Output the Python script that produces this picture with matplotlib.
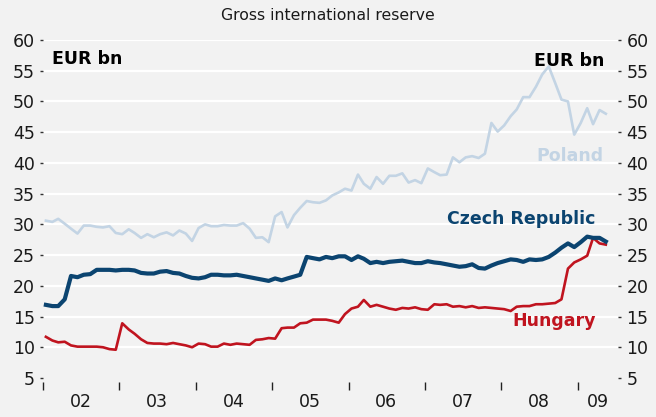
from matplotlib import pyplot as plt
import numpy as np
import pandas as pd

# Monthly data, Jan 2002 - May 2009 (EUR bn)
months = pd.date_range('2002-01-01', '2009-05-01', freq='MS')

poland = [30.6, 30.4, 30.9, 30.1, 29.3, 28.5, 29.8, 29.8, 29.6, 29.5,
          29.7, 28.6, 28.4, 29.2, 28.6, 27.8, 28.4, 27.9, 28.4, 28.7,
          28.2, 29.0, 28.5, 27.3, 29.4, 30.0, 29.7, 29.7, 29.9, 29.8,
          29.8, 30.2, 29.3, 27.8, 27.9, 27.1, 31.3, 32.0, 29.5, 31.5,
          32.7, 33.8, 33.6, 33.5, 33.9, 34.7, 35.2, 35.8, 35.5, 38.1,
          36.6, 35.8, 37.7, 36.6, 37.9, 37.9, 38.3, 36.8, 37.2, 36.7,
          39.1, 38.5, 38.0, 38.1, 40.9, 40.1, 40.9, 41.1, 40.8, 41.5,
          46.5, 45.1, 46.1, 47.6, 48.7, 50.7, 50.7, 52.4, 54.4, 55.7,
          53.0, 50.3, 50.0, 44.6, 46.5, 48.9, 46.3, 48.6, 48.0]

czech = [16.9, 16.7, 16.7, 17.8, 21.6, 21.4, 21.8, 21.9, 22.6, 22.6,
         22.6, 22.5, 22.6, 22.6, 22.5, 22.1, 22.0, 22.0, 22.3, 22.4,
         22.1, 22.0, 21.6, 21.3, 21.2, 21.4, 21.8, 21.8, 21.7, 21.7,
         21.8, 21.6, 21.4, 21.2, 21.0, 20.8, 21.2, 20.9, 21.2, 21.5,
         21.8, 24.7, 24.5, 24.3, 24.7, 24.5, 24.8, 24.8, 24.2, 24.8,
         24.4, 23.7, 23.9, 23.7, 23.9, 24.0, 24.1, 23.9, 23.7, 23.7,
         24.0, 23.8, 23.7, 23.5, 23.3, 23.1, 23.2, 23.5, 22.9, 22.8,
         23.3, 23.7, 24.0, 24.3, 24.2, 23.9, 24.3, 24.2, 24.3, 24.7,
         25.4, 26.2, 26.9, 26.3, 27.1, 28.0, 27.8, 27.8, 27.2]

hungary = [11.7, 11.1, 10.8, 10.9, 10.3, 10.1, 10.1, 10.1, 10.1, 10.0,
           9.7, 9.6, 13.9, 12.9, 12.2, 11.3, 10.7, 10.6, 10.6, 10.5,
           10.7, 10.5, 10.3, 10.0, 10.6, 10.5, 10.1, 10.1, 10.6, 10.4,
           10.6, 10.5, 10.4, 11.2, 11.3, 11.5, 11.4, 13.1, 13.2, 13.2,
           13.9, 14.0, 14.5, 14.5, 14.5, 14.3, 14.0, 15.4, 16.3, 16.6,
           17.7, 16.6, 16.9, 16.6, 16.3, 16.1, 16.4, 16.3, 16.5, 16.2,
           16.1, 17.0, 16.9, 17.0, 16.6, 16.7, 16.5, 16.7, 16.4, 16.5,
           16.4, 16.3, 16.2, 15.9, 16.6, 16.7, 16.7, 17.0, 17.0, 17.1,
           17.2, 17.8, 22.8, 23.8, 24.3, 24.9, 27.8, 26.9, 26.7]

yticks = list(range(5, 65, 5))
years = list(range(2002, 2010))
year_labels = ['02', '03', '04', '05', '06', '07', '08', '09']

bg = '#f2f2f2'
c_pl = '#c3d4e4'
c_cz = '#0b4470'
c_hu = '#c0141f'

plt.rcParams['font.family'] = 'DejaVu Sans'

fig = plt.figure(figsize=(6.56, 4.17), dpi=100, facecolor=bg)
ax = fig.add_axes([0.0655, 0.0847, 0.8765, 0.8194])
ax.set_facecolor(bg)

# plot at mid-month
x = months + pd.Timedelta(days=14)
ax.plot(x, poland, color=c_pl, lw=1.9, solid_joinstyle='round', zorder=3)
ax.plot(x, hungary, color=c_hu, lw=1.9, solid_joinstyle='round', zorder=4)
ax.plot(x, czech, color=c_cz, lw=3.0, solid_joinstyle='round', zorder=5)

ax.set_ylim(4.4, 60)
ax.set_xlim(pd.Timestamp('2002-01-01'), pd.Timestamp('2009-07-12'))
ax.set_yticks(yticks)

# major ticks at year boundaries, labels in the middle of each (visible) year
ax.set_xticks([pd.Timestamp(f'{y}-01-01') for y in years])
label_pos = [pd.Timestamp(f'{y}-07-01') for y in years[:-1]] + [pd.Timestamp('2009-04-05')]
ax.set_xticks(label_pos, minor=True)
ax.set_xticklabels([])
ax.set_xticklabels(year_labels, minor=True)
ax.tick_params(axis='x', which='major', length=6, width=1, color='#222222', direction='out')
ax.tick_params(axis='x', which='minor', length=0, pad=8, labelsize=12.5, labelcolor='#1a1a1a')
ax.tick_params(axis='y', length=2, width=1, color='#333333', pad=4, labelsize=12.5,
               labelcolor='#1a1a1a', right=True, labelright=True)

ax.grid(axis='y', color='white', lw=1.6, zorder=1)
ax.yaxis.get_gridlines()[0].set_visible(False)
for s in ax.spines.values():
    s.set_visible(False)

fig.text(0.5, 0.963, 'Gross international reserve', ha='center', va='center',
         fontsize=11.3, color='#1a1a1a')
ax.text(0.015, 0.943, 'EUR bn', transform=ax.transAxes, fontsize=12.5,
        fontweight='semibold', color='black', va='center', ha='left')
ax.text(0.977, 0.938, 'EUR bn', transform=ax.transAxes, fontsize=12.5,
        fontweight='semibold', color='black', va='center', ha='right')

ax.text(pd.Timestamp('2009-05-05'), 41.2, 'Poland', color=c_pl, fontsize=12.5,
        fontweight='semibold', ha='right', va='center', zorder=6)
ax.text(pd.Timestamp('2009-03-28'), 30.8, 'Czech Republic', color=c_cz, fontsize=12.5,
        fontweight='semibold', ha='right', va='center', zorder=6)
ax.text(pd.Timestamp('2009-03-28'), 14.2, 'Hungary', color=c_hu, fontsize=12.5,
        fontweight='semibold', ha='right', va='center', zorder=6)

fig.savefig('out.png', dpi=100, facecolor=bg)
